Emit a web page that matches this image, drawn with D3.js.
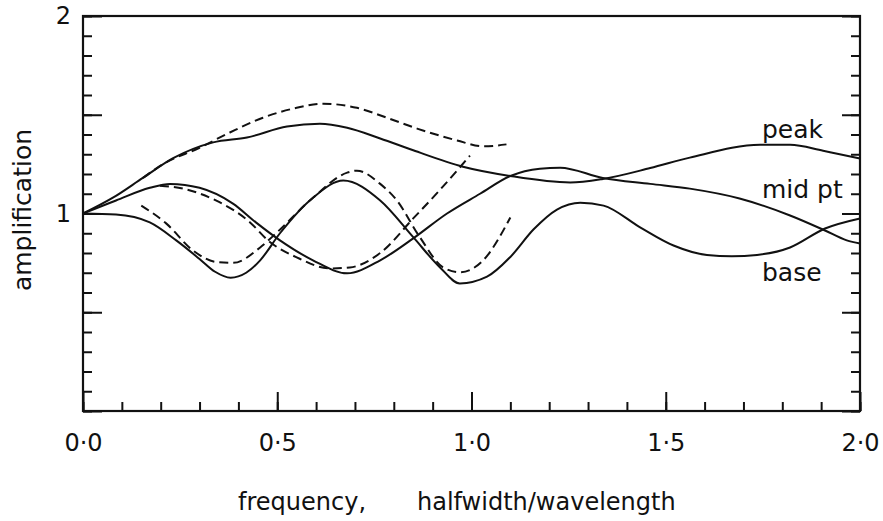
<!DOCTYPE html>
<html>
<head>
<meta charset="utf-8">
<script src="https://cdn.jsdelivr.net/npm/d3@7"></script>
<style>
  body { margin: 0; background: #fff; }
  svg { display: block; }
  text { font-family: "DejaVu Sans", sans-serif; fill: #111; }
</style>
</head>
<body>
<div id="chart"></div>
<script>
// frequency (halfwidth/wavelength) vs amplification
const peak = [[0, 1.0], [0.077, 1.08], [0.154, 1.18], [0.232, 1.28], [0.335, 1.36], [0.422, 1.385],
  [0.525, 1.44], [0.61, 1.455], [0.68, 1.434], [0.765, 1.38], [0.85, 1.32], [0.978, 1.237],
  [1.10, 1.19], [1.254, 1.157], [1.338, 1.175], [1.46, 1.23], [1.562, 1.283], [1.743, 1.348],
  [1.82, 1.348], [1.905, 1.318], [2.0, 1.278]]
const midPt = [[0, 1.0], [0.085, 1.066], [0.172, 1.13], [0.224, 1.15], [0.30, 1.13], [0.386, 1.05],
  [0.445, 0.955], [0.507, 0.864], [0.592, 0.763], [0.68, 0.697], [0.765, 0.763], [0.85, 0.874],
  [0.937, 1.0], [1.022, 1.10], [1.10, 1.19], [1.176, 1.227], [1.228, 1.232], [1.338, 1.18],
  [1.46, 1.15], [1.562, 1.126], [1.69, 1.076], [1.82, 0.99], [1.91, 0.914], [1.966, 0.864], [2.0, 0.848]]
const base = [[0, 1.0], [0.085, 0.995], [0.172, 0.955], [0.24, 0.864], [0.30, 0.77], [0.34, 0.705],
  [0.38, 0.675], [0.42, 0.70], [0.456, 0.763], [0.507, 0.90], [0.592, 1.08], [0.67, 1.167],
  [0.765, 1.066], [0.85, 0.88], [0.919, 0.727], [0.97, 0.646], [1.04, 0.68], [1.10, 0.78],
  [1.16, 0.92], [1.22, 1.02], [1.28, 1.055], [1.34, 1.04], [1.434, 0.93], [1.52, 0.838],
  [1.606, 0.79], [1.67, 0.783], [1.735, 0.79], [1.82, 0.828], [1.91, 0.924], [2.0, 0.975]]

// dashed companions, which stop near 1.1
const peakDash = [[0.154, 1.18], [0.206, 1.25], [0.30, 1.333], [0.378, 1.41], [0.463, 1.485],
  [0.55, 1.535], [0.618, 1.556], [0.705, 1.535], [0.782, 1.485], [0.86, 1.43], [0.963, 1.37],
  [1.03, 1.34], [1.09, 1.35]]
const midDash = [[0.198, 1.14], [0.257, 1.126], [0.342, 1.066], [0.43, 0.955], [0.476, 0.864],
  [0.55, 0.778], [0.636, 0.722], [0.687, 0.727], [0.765, 0.80], [0.85, 0.975], [0.919, 1.12],
  [0.996, 1.293]]
const baseDash = [[0.15, 1.04], [0.214, 0.95], [0.283, 0.813], [0.342, 0.755], [0.386, 0.75],
  [0.456, 0.828], [0.497, 0.90], [0.592, 1.08], [0.68, 1.207], [0.705, 1.217], [0.765, 1.15],
  [0.808, 1.066], [0.867, 0.88], [0.927, 0.727], [0.97, 0.702], [1.03, 0.763], [1.10, 0.98]]

const xMajor = [0, 0.5, 1, 1.5, 2]
const yMajor = [0, 0.5, 1, 1.5, 2]
const yLabelled = [1, 2]
const curveLabels = [["peak", 1.38], ["mid pt", 1.08], ["base", 0.66]]

const width = 883, height = 521
const margin = {left: 83, right: 860, top: 16, bottom: 411}

const svg = d3.select("#chart").append("svg")
  .attr("width", width)
  .attr("height", height)

const x = d3.scaleLinear().domain([0, 2]).range([margin.left, margin.right])
const y = d3.scaleLinear().domain([0, 2]).range([margin.bottom, margin.top])

const minorX = d3.range(0, 2.0001, 0.1)
const minorY = d3.range(0, 2.0001, 0.1)
const fmt = d => d3.format(".1f")(d).replace(".", "·")

function styleAxis(g) {
  g.select(".domain").remove()
  g.selectAll("line").attr("stroke", "#111").attr("stroke-width", 2)
  g.selectAll("text").attr("font-size", 24).attr("font-family", "DejaVu Sans, sans-serif").attr("fill", "#111")
}

// bottom
svg.append("g").attr("transform", `translate(0,${margin.bottom})`)
  .call(d3.axisBottom(x).tickValues(minorX).tickSize(-9).tickFormat(""))
  .call(styleAxis)
svg.append("g").attr("transform", `translate(0,${margin.bottom})`)
  .call(d3.axisBottom(x).tickValues(xMajor).tickSize(-19).tickPadding(23).tickFormat(fmt))
  .call(styleAxis)

// left
svg.append("g").attr("transform", `translate(${margin.left},0)`)
  .call(d3.axisLeft(y).tickValues(minorY).tickSize(-9).tickFormat(""))
  .call(styleAxis)
svg.append("g").attr("transform", `translate(${margin.left},0)`)
  .call(d3.axisLeft(y).tickValues(yMajor).tickSize(-19).tickPadding(12)
    .tickFormat(d => yLabelled.includes(d) ? d : ""))
  .call(styleAxis)

// right, ticks pointing in
svg.append("g").attr("transform", `translate(${margin.right},0)`)
  .call(d3.axisLeft(y).tickValues(minorY).tickSize(9).tickFormat(""))
  .call(styleAxis)
svg.append("g").attr("transform", `translate(${margin.right},0)`)
  .call(d3.axisLeft(y).tickValues(yMajor).tickSize(18).tickFormat(""))
  .call(styleAxis)

// frame
svg.append("rect")
  .attr("x", margin.left).attr("y", margin.top)
  .attr("width", margin.right - margin.left).attr("height", margin.bottom - margin.top)
  .attr("fill", "none").attr("stroke", "#111").attr("stroke-width", 2.2)

const line = d3.line()
  .x(d => x(d[0]))
  .y(d => y(d[1]))
  .curve(d3.curveMonotoneX)

const series = [
  [peak, null], [midPt, null], [base, null],
  [peakDash, "9,5"], [midDash, "9,5"], [baseDash, "9,5"]
]

svg.append("g").selectAll("path")
  .data(series)
  .enter()
  .append("path")
  .attr("d", d => line(d[0]))
  .attr("fill", "none")
  .attr("stroke", "#111")
  .attr("stroke-width", 2)
  .attr("stroke-dasharray", d => d[1])

// curve labels
svg.append("g").selectAll("text")
  .data(curveLabels)
  .enter()
  .append("text")
  .attr("x", 762)
  .attr("y", d => y(d[1]))
  .attr("font-size", 25)
  .text(d => d[0])

// axis titles
svg.append("text")
  .attr("transform", "translate(31,210) rotate(-90)")
  .attr("text-anchor", "middle")
  .attr("font-size", 25)
  .text("amplification")

svg.append("text")
  .attr("x", 238).attr("y", 510)
  .attr("font-size", 24)
  .text("frequency,")

svg.append("text")
  .attr("x", 417).attr("y", 510)
  .attr("font-size", 24)
  .text("halfwidth/wavelength")
</script>
</body>
</html>
